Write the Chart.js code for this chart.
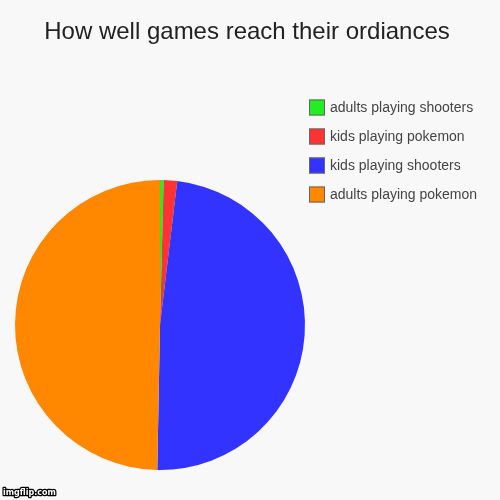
<!DOCTYPE html>
<html>
<head>
  <meta charset="utf-8">
  <script src="https://cdn.jsdelivr.net/npm/chart.js@4.4.0/dist/chart.umd.min.js"></script>
  <style>
    * { margin: 0; padding: 0; box-sizing: border-box; }
    body { background: #f8f8f8; width: 500px; height: 500px; overflow: hidden; }
    .wrap { position: relative; width: 500px; height: 500px; }
  </style>
</head>
<body>
  <div class="wrap"><canvas id="chart" width="500" height="500"></canvas></div>
  <script>
    // Chart data, clockwise from 12 o'clock
    const titleText = "How well games reach their ordiances";
    const labels = ["adults playing shooters", "kids playing pokemon", "kids playing shooters", "adults playing pokemon"];
    const values = [0.4, 1.5, 48.4, 49.7];
    const colors = ["#22ee22", "#ff3333", "#3333ff", "#ff8800"];

    // Title, legend and watermark are painted by hand to match the fixed layout
    const decorPlugin = {
      id: "decor",
      afterDraw(chart) {
        const ctx = chart.ctx;
        ctx.save();
        ctx.fillStyle = "#222";
        ctx.font = "24px 'Liberation Sans', Arial, sans-serif";
        ctx.textAlign = "center";
        ctx.textBaseline = "middle";
        ctx.fillText(titleText, 247, 32);

        ctx.textAlign = "left";
        ctx.font = "14px 'Liberation Sans', Arial, sans-serif";
        labels.forEach((label, i) => {
          const y = 107.5 + i * 29;
          ctx.fillStyle = colors[i];
          ctx.fillRect(309, y - 8, 16, 16);
          ctx.strokeStyle = "#666";
          ctx.lineWidth = 1;
          ctx.strokeRect(309.5, y - 7.5, 15, 15);
          ctx.fillStyle = "#444";
          ctx.fillText(label, 330, y + 1);
        });

        ctx.font = "bold 8px 'DejaVu Sans', sans-serif";
        ctx.lineWidth = 2.5;
        ctx.strokeStyle = "#000";
        ctx.fillStyle = "#fff";
        ctx.lineJoin = "round";
        ctx.strokeText("imgflip.com", 3, 493);
        ctx.fillText("imgflip.com", 3, 493);
        ctx.restore();
      }
    };

    new Chart(document.getElementById("chart"), {
      type: "pie",
      data: {
        labels: labels,
        datasets: [{
          data: values,
          backgroundColor: colors,
          borderWidth: 0
        }]
      },
      options: {
        responsive: false,
        animation: false,
        layout: { padding: { left: 15, right: 195, top: 180, bottom: 30 } },
        plugins: {
          legend: { display: false },
          title: { display: false },
          tooltip: { enabled: false }
        }
      },
      plugins: [decorPlugin]
    });
  </script>
</body>
</html>
